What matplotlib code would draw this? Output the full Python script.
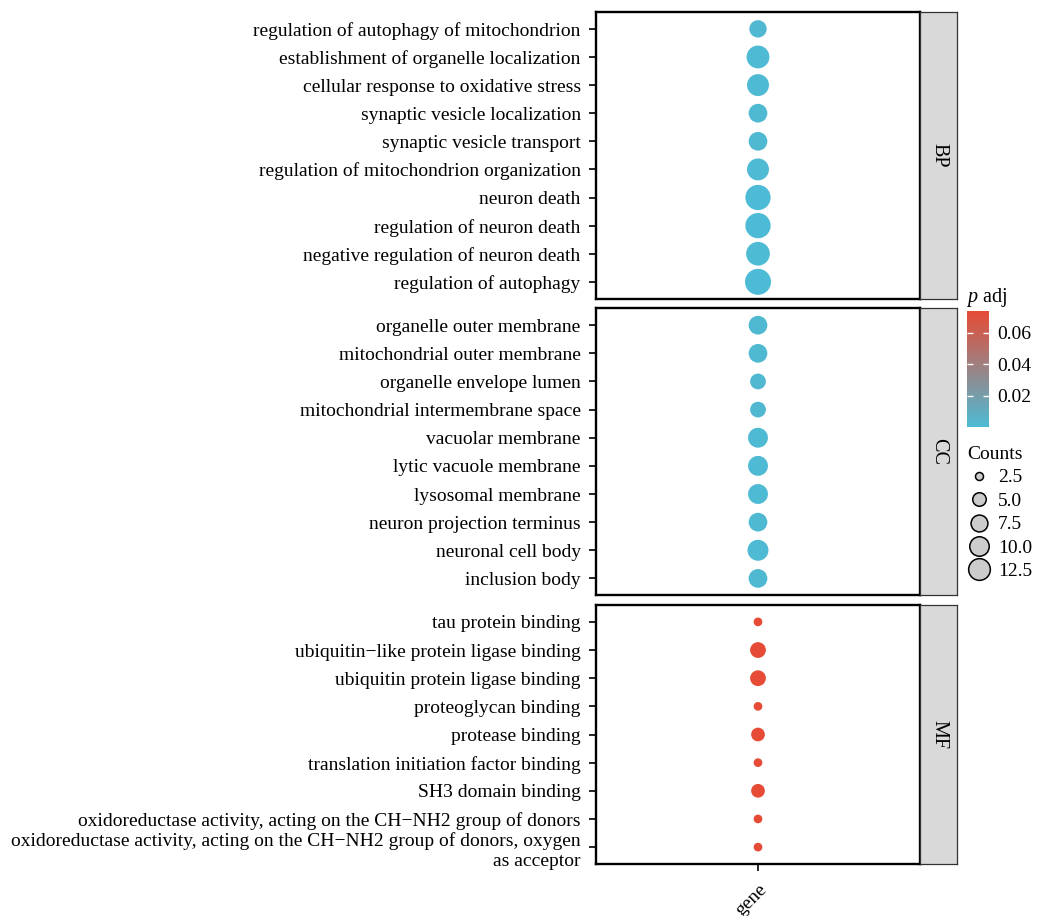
import numpy as np
import matplotlib
matplotlib.use("Agg")
import matplotlib.pyplot as plt
from matplotlib.colors import LinearSegmentedColormap, Normalize
from matplotlib.cm import ScalarMappable
from matplotlib.lines import Line2D

plt.rcParams['font.family'] = ['Liberation Serif', 'DejaVu Serif']
plt.rcParams['mathtext.fontset'] = 'custom'
plt.rcParams['mathtext.rm'] = 'Liberation Serif'
plt.rcParams['mathtext.it'] = 'Liberation Serif:italic'

# Data ---------------------------------------------------------------------
bp_terms = ['regulation of autophagy of mitochondrion',
            'establishment of organelle localization',
            'cellular response to oxidative stress',
            'synaptic vesicle localization',
            'synaptic vesicle transport',
            'regulation of mitochondrion organization',
            'neuron death',
            'regulation of neuron death',
            'negative regulation of neuron death',
            'regulation of autophagy']
bp_counts = [5, 10, 9, 6, 6, 9, 13, 13, 11, 14]
bp_padj = [0.0021, 0.0008, 0.0012, 0.0019, 0.0019, 0.0012, 0.0003, 0.0003, 0.0006, 0.0002]

cc_terms = ['organelle outer membrane',
            'mitochondrial outer membrane',
            'organelle envelope lumen',
            'mitochondrial intermembrane space',
            'vacuolar membrane',
            'lytic vacuole membrane',
            'lysosomal membrane',
            'neuron projection terminus',
            'neuronal cell body',
            'inclusion body']
cc_counts = [6, 6, 4, 4, 7, 7, 7, 6, 8, 6]
cc_padj = [0.0015, 0.0015, 0.0024, 0.0024, 0.0011, 0.0011, 0.0011, 0.0016, 0.0009, 0.0016]

mf_terms = ['tau protein binding',
            'ubiquitin\u2212like protein ligase binding',
            'ubiquitin protein ligase binding',
            'proteoglycan binding',
            'protease binding',
            'translation initiation factor binding',
            'SH3 domain binding',
            'oxidoreductase activity, acting on the CH\u2212NH2 group of donors',
            'oxidoreductase activity, acting on the CH\u2212NH2 group of donors, oxygen\nas acceptor']
mf_counts = [2, 4, 4, 2, 3, 2, 3, 2, 2]
mf_padj = [0.0737] * 9

facets = ['BP', 'CC', 'MF']
legend_counts = [2.5, 5.0, 7.5, 10.0, 12.5]
cbar_ticks = [0.02, 0.04, 0.06]

# Styling ------------------------------------------------------------------
W, H = 1040, 916
FS = 14
cmap = LinearSegmentedColormap.from_list('padj', ['#4DBBD5', '#E64B35'])
all_padj = bp_padj + cc_padj + mf_padj
norm = Normalize(vmin=min(all_padj), vmax=max(all_padj))


def dot_size(c, base=8.7, k=5.0):
    # diameter in px -> scatter area in pt^2
    d = base + k * np.sqrt(np.asarray(c, dtype=float) - 2)
    return (d * 0.72) ** 2


fig = plt.figure(figsize=(W / 100, H / 100), dpi=100)

# panel boxes in pixels: (top, bottom)
panel_px = [(12, 298.7), (308.3, 595.3), (605, 864)]
px0, px1 = 596, 920
strip_w = 37

groups = [(bp_terms, bp_counts, bp_padj),
          (cc_terms, cc_counts, cc_padj),
          (mf_terms, mf_counts, mf_padj)]

for i, (terms, counts, padj) in enumerate(groups):
    top, bot = panel_px[i]
    ax = fig.add_axes([px0 / W, 1 - bot / H, (px1 - px0) / W, (bot - top) / H])
    n = len(terms)
    y = np.arange(n)
    ax.scatter(['gene'] * n, y, s=dot_size(counts), c=padj, cmap=cmap, norm=norm,
               linewidths=0, zorder=3)
    ax.set_xlim(-0.6, 0.6)
    ax.set_ylim(n - 1 + 0.6, -0.6)
    ax.set_yticks(y)
    ax.set_yticklabels(terms, fontsize=FS, linespacing=1.3)
    ax.tick_params(axis='y', length=5, width=1.2, pad=6)
    for sp in ax.spines.values():
        sp.set_linewidth(1.7)
    if i < 2:
        ax.set_xticks([])
    else:
        ax.tick_params(axis='x', length=5, width=1.2, pad=7)
        plt.setp(ax.get_xticklabels(), rotation=45, ha='right', va='top',
                 rotation_mode='anchor', fontsize=FS)
    # facet strip
    sax = fig.add_axes([px1 / W, 1 - bot / H, strip_w / W, (bot - top) / H])
    sax.set_facecolor('#D9D9D9')
    sax.set_xticks([])
    sax.set_yticks([])
    for sp in sax.spines.values():
        sp.set_linewidth(0.9)
        sp.set_color('#333333')
    sax.text(0.5, 0.5, facets[i], rotation=-90, ha='center', va='center',
             fontsize=FS + 0.5, transform=sax.transAxes)

# colour bar ---------------------------------------------------------------
cax = fig.add_axes([967 / W, 1 - 427 / H, 22 / W, 116 / H])
cb = fig.colorbar(ScalarMappable(norm=norm, cmap=cmap), cax=cax, ticks=cbar_ticks)
cb.outline.set_visible(False)
cax.tick_params(direction='in', colors='white', length=4.5, width=1,
                left=True, right=True, labelsize=FS, pad=6)
for lbl in cax.get_yticklabels():
    lbl.set_color('black')
fig.text(966 / W, 1 - 309 / H, r'$p$ adj', fontsize=FS + 0.5, ha='left', va='bottom')

# size legend --------------------------------------------------------------
handles = [Line2D([], [], ls='', marker='o', markerfacecolor='#CCCCCC',
                  markeredgecolor='black', markeredgewidth=1.1,
                  markersize=np.sqrt(dot_size(c, base=5.17 - 1.0, k=5.41)))
           for c in legend_counts]
leg = fig.legend(handles, ['%.1f' % c for c in legend_counts], title='Counts',
                 loc='upper left', bbox_to_anchor=(967 / W, 1 - 446 / H),
                 frameon=False, fontsize=FS, title_fontsize=FS,
                 alignment='left', handlelength=1.2, handletextpad=0.4,
                 labelspacing=0.3, borderaxespad=0, borderpad=0)

fig.savefig('out.png', dpi=100)
